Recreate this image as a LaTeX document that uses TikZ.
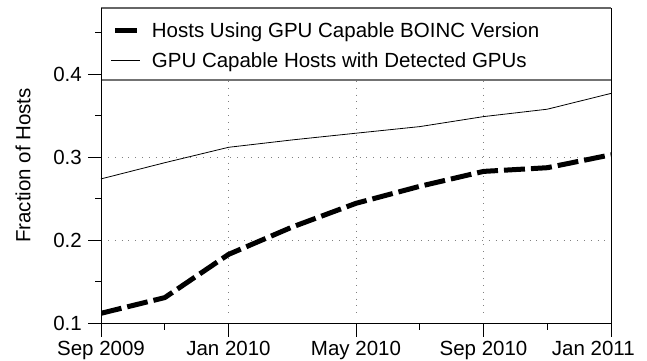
\documentclass[tikz,border=0pt]{standalone}
\usepackage{fontspec}
\setmainfont{Liberation Sans}
\begin{document}
\begin{tikzpicture}[x=1pt,y=-1pt,
  lbl/.style={font=\fontsize{20.5}{24}\selectfont, inner sep=0pt},
  gridline/.style={gray, line width=0.6pt, dash pattern=on 0.8pt off 6pt},
  frame/.style={black, line width=0.9pt},
  legframe/.style={black!60, line width=1.4pt},
  thinline/.style={black, line width=0.8pt, line join=round},
  thickline/.style={black, line width=5pt, dash pattern=on 21pt off 6pt, line join=round},
  tickmark/.style={black, line width=0.8pt}]
\useasboundingbox (0,0) rectangle (647,360);
% grid
\draw[gridline] (228.5,81) -- (228.5,317);
\draw[gridline] (356,81) -- (356,317);
\draw[gridline] (483.5,81) -- (483.5,317);
\draw[gridline] (108,157.3) -- (605,157.3);
\draw[gridline] (108,240.3) -- (605,240.3);
% data
\coordinate (s0) at (101,178.9);
\coordinate (s1) at (164.75,162.7);
\coordinate (s2) at (228.5,147.3);
\coordinate (s3) at (292.25,139.9);
\coordinate (s4) at (356,133.2);
\coordinate (s5) at (419.75,126.6);
\coordinate (s6) at (483.5,116.6);
\coordinate (s7) at (547.25,109.2);
\coordinate (s8) at (611,93.4);
\draw[thinline] (s0) -- (s1) -- (s2) -- (s3) -- (s4) -- (s5) -- (s6) -- (s7) -- (s8);
\coordinate (d0) at (101,313.3);
\coordinate (d1) at (164.75,297.6);
\coordinate (d2) at (228.5,254.4);
\coordinate (d3) at (292.25,227.0);
\coordinate (d4) at (356,203.3);
\coordinate (d5) at (419.75,186.3);
\coordinate (d6) at (483.5,171.4);
\coordinate (d7) at (547.25,167.7);
\coordinate (d8) at (611,154.8);
\begin{scope}
\clip (101,8) rectangle (611,323.3);
\draw[thickline] (d0) -- (d1) -- (d2) -- (d3) -- (d4) -- (d5) -- (d6) -- (d7) -- (d8);
\end{scope}
% legend
\coordinate (tl) at (101,8);
\coordinate (tr) at (611,8);
\coordinate (lgbl) at (101,80);
\coordinate (lgbr) at (611,80);
\fill[white] (lgbl) rectangle (tr);
\draw[legframe] (tl) -- (tr);
\draw[legframe, line width=1.8pt, black!55] (lgbl) -- (lgbr);
\draw[black, line width=5pt] (115,30.7) -- (137,30.7);
\draw[black, line width=0.8pt] (111,60.7) -- (140,60.7);
\node[lbl, anchor=base west] (leg1) at (151.7,37.8) {Hosts Using GPU Capable BOINC Version};
\node[lbl, anchor=base west] (leg2) at (151.7,67.8) {GPU Capable Hosts with Detected GPUs};
% frame
\coordinate (bl) at (101,323.3);
\coordinate (br) at (611,323.3);
\draw[frame] (tl) -- (bl) -- (br) -- (tr);
% y ticks
\foreach \yy/\tx/\nm in {323.3/0.1/ya, 240.3/0.2/yb, 157.3/0.3/yc, 74.3/0.4/yd}{
  \draw[tickmark] (88,\yy) -- (101,\yy);
  \node[lbl, anchor=east] (\nm) at (82,\yy) {\tx};
}
\foreach \yy in {281.8, 198.8, 115.8, 32.8}{
  \draw[tickmark] (95,\yy) -- (101,\yy);
}
% x ticks
\foreach \xx/\tx/\nm in {101/Sep 2009/xa, 228.5/Jan 2010/xb, 356/May 2010/xc, 483.5/Sep 2010/xd}{
  \draw[tickmark] (\xx,323.3) -- (\xx,336.7);
  \node[lbl, anchor=base] (\nm) at (\xx,355.5) {\tx};
}
\draw[tickmark] (611,323.3) -- (611,336.7);
\node[lbl, anchor=base east] (xe) at (635,355.5) {Jan 2011};
\foreach \xx in {164.75, 419.75, 547.25}{
  \draw[tickmark] (\xx,323.3) -- (\xx,330);
}
% y label
\node[lbl, rotate=90] (ylab) at (23,165.5) {Fraction of Hosts};
\end{tikzpicture}
\end{document}
